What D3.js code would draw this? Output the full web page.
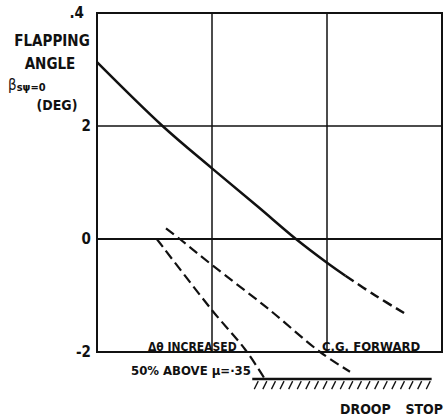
<!DOCTYPE html>
<html>
<head>
<meta charset="utf-8">
<script src="https://cdn.jsdelivr.net/npm/d3@7"></script>
<style>
  body { margin: 0; background: #fff; }
  svg text { font-family: "Liberation Sans Narrow", "DejaVu Sans Condensed", sans-serif; fill: #111; }
</style>
</head>
<body>
<svg></svg>
<script>
// DATA

let yTicks = [4, 2, 0, -2];
let yTickLabels = [".4", "2", "0", "-2"];
let xGrid = [1, 2];

// upper curve: solid part, then dashed continuation
let baseSolid = [[0, 3.13], [0.57, 2.0], [1.0, 1.25], [1.4, 0.57], [1.73, 0], [2.0, -0.42], [2.16, -0.65]];
let baseDashed = [[2.16, -0.65], [2.42, -1.0], [2.67, -1.31]];
// C.G. forward
let cgForward = [[0.6, 0.19], [0.72, 0], [1.0, -0.46], [1.48, -1.22], [1.94, -2.0], [2.2, -2.35]];
// delta theta increased
let dThetaIncreased = [[0.52, 0], [1.0, -1.26], [1.29, -1.96], [1.46, -2.48]];
// droop stop level
let droopStop = [[1.35, -2.48], [2.91, -2.48]];

// PAGE SETUP

let width = 444, height = 419;

let svg = d3.select("svg")
  .attr("width", width)
  .attr("height", height);

let x = d3.scaleLinear().domain([0, 3]).range([97, 442]);
let y = d3.scaleLinear().domain([-2, 4]).range([352, 13]);

let line = d3.line()
  .x(d => x(d[0]))
  .y(d => y(d[1]))
  .curve(d3.curveCatmullRom);

// grid
svg.selectAll(".hgrid")
  .data([2, 0])
  .enter()
  .append("line")
  .attr("x1", x(0)).attr("x2", x(3))
  .attr("y1", d => y(d)).attr("y2", d => y(d))
  .attr("stroke", "#111")
  .attr("stroke-width", d => d == 0 ? 2.2 : 1.5);

svg.selectAll(".vgrid")
  .data(xGrid)
  .enter()
  .append("line")
  .attr("x1", d => x(d)).attr("x2", d => x(d))
  .attr("y1", y(4)).attr("y2", y(-2))
  .attr("stroke", "#111")
  .attr("stroke-width", 1.5);

// frame
svg.append("rect")
  .attr("x", x(0)).attr("y", y(4))
  .attr("width", x(3) - x(0)).attr("height", y(-2) - y(4))
  .attr("fill", "none")
  .attr("stroke", "#111")
  .attr("stroke-width", 2);

// y tick labels
svg.selectAll(".ytick")
  .data(yTicks)
  .enter()
  .append("text")
  .attr("x", (d, i) => i == 0 ? 84 : 91)
  .attr("y", d => y(d) + 5)
  .attr("text-anchor", "end")
  .attr("font-size", 15)
  .attr("font-weight", "bold")
  .text((d, i) => yTickLabels[i]);

// curves
svg.append("path").attr("d", line(baseSolid))
  .attr("fill", "none").attr("stroke", "#111").attr("stroke-width", 2.5);
svg.append("path").attr("d", line(baseDashed))
  .attr("fill", "none").attr("stroke", "#111").attr("stroke-width", 2.5)
  .attr("stroke-dasharray", "10,5");
svg.append("path").attr("d", line(cgForward))
  .attr("fill", "none").attr("stroke", "#111").attr("stroke-width", 2.2)
  .attr("stroke-dasharray", "10,5");
svg.append("path").attr("d", line(dThetaIncreased))
  .attr("fill", "none").attr("stroke", "#111").attr("stroke-width", 2.2)
  .attr("stroke-dasharray", "10,5");

// droop stop with hatching
svg.append("path").attr("d", line(droopStop))
  .attr("fill", "none").attr("stroke", "#111").attr("stroke-width", 2.5);

let hatchX = d3.range(x(droopStop[0][0]) + 6, x(droopStop[1][0]) + 1, 8.6);
svg.selectAll(".hatch")
  .data(hatchX)
  .enter()
  .append("line")
  .attr("x1", d => d).attr("y1", y(-2.48) + 2)
  .attr("x2", d => d - 4).attr("y2", y(-2.48) + 10)
  .attr("stroke", "#111")
  .attr("stroke-width", 1.3);

// labels
let labels = [
  {t: "FLAPPING", x: 52, y: 46, a: "middle", s: 15},
  {t: "ANGLE", x: 50, y: 69, a: "middle", s: 15},
  {t: "(DEG)", x: 57, y: 110, a: "middle", s: 14},
  {t: "\u0394\u03b8 INCREASED", x: 148, y: 351, a: "start", s: 12},
  {t: "C.G. FORWARD", x: 322, y: 351, a: "start", s: 13},
  {t: "50% ABOVE \u03bc=\u00b735", x: 131, y: 375, a: "start", s: 13},
  {t: "DROOP", x: 340, y: 414, a: "start", s: 14},
  {t: "STOP", x: 443, y: 414, a: "end", s: 14}
];
svg.selectAll(".lbl")
  .data(labels)
  .enter()
  .append("text")
  .attr("x", d => d.x).attr("y", d => d.y)
  .attr("text-anchor", d => d.a)
  .attr("font-size", d => d.s)
  .attr("font-weight", "bold")
  .text(d => d.t);

// beta symbol with subscripts
let beta = svg.append("text").attr("x", 8).attr("y", 90).attr("font-size", 15);
beta.append("tspan").text("\u03b2");
beta.append("tspan").attr("font-size", 11).attr("font-weight", "bold").attr("dy", 1).text("s\u03c8=0");
</script>
</body>
</html>
